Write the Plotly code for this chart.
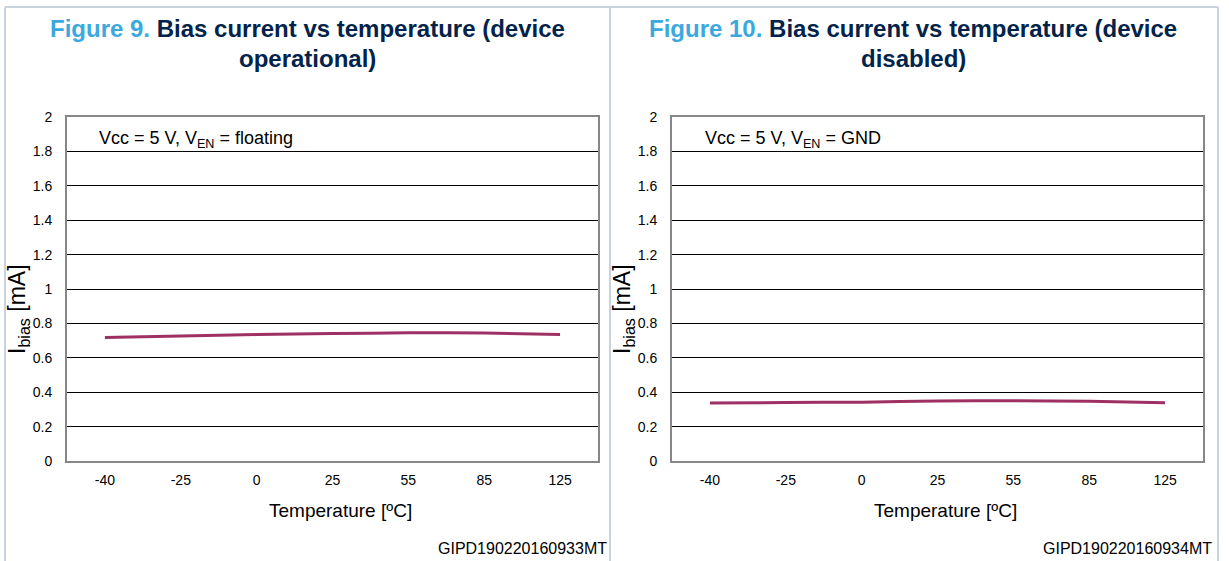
import plotly.graph_objects as go

# ---- data ----
temps = ["-40", "-25", "0", "25", "55", "85", "125"]
ibias_operational = [0.718, 0.727, 0.735, 0.741, 0.745, 0.744, 0.735]
ibias_disabled = [0.337, 0.340, 0.342, 0.349, 0.350, 0.347, 0.339]
y_ticks = [0, 0.2, 0.4, 0.6, 0.8, 1, 1.2, 1.4, 1.6, 1.8, 2]
y_ticklabels = ["0", "0.2", "0.4", "0.6", "0.8", "1", "1.2", "1.4", "1.6", "1.8", "2"]

W, H = 1229, 561
def px(x):
    return x / W
def py(y):
    return 1 - y / H

LINE_COLOR = "#9E3064"
FONT = "Liberation Sans, Arial, sans-serif"

fig = go.Figure()
fig.add_trace(go.Scatter(x=temps, y=ibias_operational, mode="lines",
                         line=dict(color=LINE_COLOR, width=3, shape="spline", smoothing=0.6),
                         xaxis="x", yaxis="y", showlegend=False, hoverinfo="x+y"))
fig.add_trace(go.Scatter(x=temps, y=ibias_disabled, mode="lines",
                         line=dict(color=LINE_COLOR, width=3, shape="spline", smoothing=0.6),
                         xaxis="x2", yaxis="y2", showlegend=False, hoverinfo="x+y"))

xaxis_common = dict(type="category", categoryorder="array", categoryarray=temps,
                    range=[-0.5, 6.5], showgrid=False, zeroline=False, automargin=False,
                    showline=True, linecolor="#878787", linewidth=2, mirror=True,
                    ticks="", ticklabelstandoff=5,
                    tickfont=dict(family=FONT, size=14, color="#000000"),
                    fixedrange=True)
yaxis_common = dict(range=[0, 2], tickvals=y_ticks, ticktext=y_ticklabels, automargin=False,
                    showgrid=True, gridcolor="#000000", gridwidth=1, zeroline=False,
                    showline=True, linecolor="#878787", linewidth=2, mirror=True,
                    ticks="", ticklabelstandoff=10,
                    tickfont=dict(family=FONT, size=14, color="#000000"),
                    fixedrange=True)

y_dom = [py(461), py(117)]
fig.update_layout(
    width=W, height=H,
    margin=dict(l=0, r=0, t=0, b=0, pad=0, autoexpand=False),
    paper_bgcolor="white", plot_bgcolor="white",
    xaxis=dict(domain=[px(67), px(598)], anchor="y", **xaxis_common),
    yaxis=dict(domain=y_dom, anchor="x", **yaxis_common),
    xaxis2=dict(domain=[px(672), px(1203)], anchor="y2", **xaxis_common),
    yaxis2=dict(domain=y_dom, anchor="x2", **yaxis_common),
)

annotations = []
# Titles
titles = [
    (307, "Figure 9.", "Bias current vs temperature (device", "operational)"),
    (913, "Figure 10.", "Bias current vs temperature (device", "disabled)"),
]
for cx, fig_lbl, line1, line2 in titles:
    annotations.append(dict(
        x=px(cx), y=py(28), xref="paper", yref="paper", xanchor="center", yanchor="middle",
        text=f"<b><span style='color:#3BA9DD'>{fig_lbl}</span> {line1}</b>",
        showarrow=False, font=dict(family=FONT, size=24, color="#03234B")))
    annotations.append(dict(
        x=px(cx), y=py(58), xref="paper", yref="paper", xanchor="center", yanchor="middle",
        text=f"<b>{line2}</b>",
        showarrow=False, font=dict(family=FONT, size=24, color="#03234B")))

# Condition labels
conds = [(97, "Vcc = 5 V, V<sub>EN</sub> = floating"), (703, "Vcc = 5 V, V<sub>EN</sub> = GND")]
for x0, txt in conds:
    annotations.append(dict(x=px(x0), y=py(139), xref="paper", yref="paper",
                            xanchor="left", yanchor="middle", text=txt, showarrow=False,
                            font=dict(family=FONT, size=18, color="#000000")))

# Axis titles
for x0 in (18, 623):
    annotations.append(dict(x=px(x0), y=py(309), xref="paper", yref="paper",
                            xanchor="center", yanchor="middle", textangle=-90,
                            text="I<sub>bias</sub> [mA]", showarrow=False,
                            font=dict(family=FONT, size=23, color="#000000")))
for cx in (340, 945):
    annotations.append(dict(x=px(cx), y=py(510), xref="paper", yref="paper",
                            xanchor="center", yanchor="middle",
                            text="Temperature [ºC]", showarrow=False,
                            font=dict(family=FONT, size=19, color="#000000")))

# Footer codes
for x0, code in ((609, "GIPD190220160933MT"), (1214, "GIPD190220160934MT")):
    annotations.append(dict(x=px(x0), y=py(548), xref="paper", yref="paper",
                            xanchor="right", yanchor="middle", text=code, showarrow=False,
                            font=dict(family=FONT, size=16, color="#000000")))

fig.update_layout(annotations=annotations)

# Outer frame
frame_color = "#C9D3DD"
shapes = [
    dict(type="line", xref="paper", yref="paper", x0=px(5), x1=px(1218), y0=py(7), y1=py(7),
         line=dict(color=frame_color, width=2)),
    dict(type="line", xref="paper", yref="paper", x0=px(5), x1=px(5), y0=py(7), y1=0,
         line=dict(color=frame_color, width=2)),
    dict(type="line", xref="paper", yref="paper", x0=px(610), x1=px(610), y0=py(7), y1=0,
         line=dict(color=frame_color, width=2)),
    dict(type="line", xref="paper", yref="paper", x0=px(1218), x1=px(1218), y0=py(7), y1=0,
         line=dict(color=frame_color, width=2)),
]
fig.update_layout(shapes=shapes)

fig.write_html("out.html", config={"displayModeBar": False},
               post_script="document.body.style.margin='0px';document.body.style.overflow='hidden';")
